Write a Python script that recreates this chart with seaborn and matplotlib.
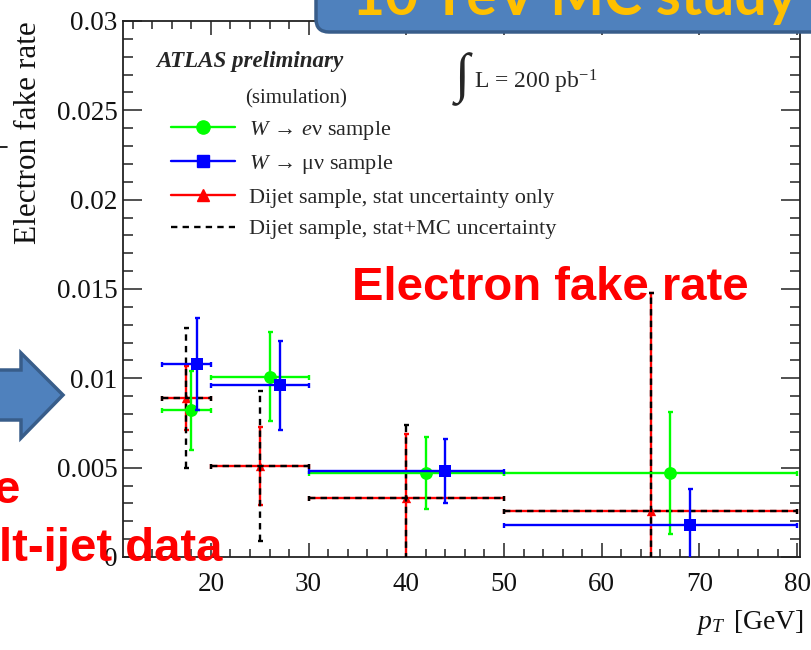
import numpy as np
import pandas as pd
import matplotlib
matplotlib.use("Agg")
import matplotlib.pyplot as plt
import seaborn as sns
from matplotlib.lines import Line2D
from matplotlib.patches import FancyBboxPatch, Polygon

# pT bin edges [GeV]
bin_lo = [15, 20, 30, 50]
bin_hi = [20, 30, 50, 80]

# W -> e nu sample
wen_pt = [18.0, 26.0, 42.0, 67.0]
wen_rate = [0.0082, 0.0101, 0.0047, 0.0047]
wen_err = [0.0022, 0.0025, 0.0020, 0.0034]

# W -> mu nu sample
wmn_pt = [18.6, 27.1, 44.0, 69.0]
wmn_rate = [0.0108, 0.0096, 0.0048, 0.0018]
wmn_err = [0.0026, 0.0025, 0.0018, 0.0020]

# Dijet sample: stat-only and stat+MC uncertainties
dij_pt = [17.5, 25.0, 40.0, 65.0]
dij_rate = [0.0089, 0.0051, 0.0033, 0.0026]
dij_stat = [0.0018, 0.0022, 0.0036, 0.0122]
dij_tot = [0.0039, 0.0042, 0.0041, 0.0122]

x_ticks = [20, 30, 40, 50, 60, 70, 80]
y_ticks = [0, 0.005, 0.01, 0.015, 0.02, 0.025, 0.03]
y_tick_labels = ["0", "0.005", "0.01", "0.015", "0.02", "0.025", "0.03"]

legend_labels = [
    r"$W\,\rightarrow\,e\mathrm{\nu}$ sample",
    r"$W\,\rightarrow\,\mathrm{\mu\nu}$ sample",
    "Dijet sample, stat uncertainty only",
    "Dijet sample, stat+MC uncertainty",
]

GREEN, BLUE, RED = "#00ff00", "#0000ff", "#ff0000"
DASH = (0, (2.7, 2.2))

sns.set_theme(style="ticks")
plt.rcParams["font.family"] = ["Liberation Serif", "DejaVu Serif"]
plt.rcParams["mathtext.fontset"] = "custom"
plt.rcParams["mathtext.rm"] = "Liberation Serif"
plt.rcParams["mathtext.it"] = "Liberation Serif:italic"
plt.rcParams["mathtext.bf"] = "Liberation Serif:bold"

W, H = 811, 650
fig = plt.figure(figsize=(W / 100, H / 100), dpi=100)
fig.patch.set_facecolor("white")
ax = fig.add_axes([123 / W, 1 - 557 / H, (800 - 123) / W, (557 - 21) / H])
ax.set_xlim(11, 80.3)
ax.set_ylim(0, 0.03)


def bin_xerr(x):
    x = np.asarray(x)
    return [x - np.asarray(bin_lo), np.asarray(bin_hi) - x]


def draw_errors(x, y, yerr, color, z, ls=None, lw=1.7):
    eb = ax.errorbar(x, y, xerr=bin_xerr(x), yerr=yerr, fmt="none",
                     ecolor=color, elinewidth=lw, capsize=1.8, capthick=lw,
                     zorder=z)
    if ls is not None:
        for col in eb[2]:
            col.set_linestyle(ls)
    return eb


# dijet: red stat bars under black dashed stat+MC bars
draw_errors(dij_pt, dij_rate, dij_stat, RED, 2)
sns.scatterplot(x=dij_pt, y=dij_rate, marker="^", color=RED, s=45,
                linewidth=0, ax=ax, zorder=3)
draw_errors(dij_pt, dij_rate, dij_tot, "black", 4, ls=DASH)

# W -> e nu
draw_errors(wen_pt, wen_rate, wen_err, GREEN, 5)
sns.scatterplot(x=wen_pt, y=wen_rate, marker="o", color=GREEN, s=85,
                linewidth=0, ax=ax, zorder=6)

# W -> mu nu
draw_errors(wmn_pt, wmn_rate, wmn_err, BLUE, 7)
sns.scatterplot(x=wmn_pt, y=wmn_rate, marker="s", color=BLUE, s=80,
                linewidth=0, ax=ax, zorder=8)

# ROOT-like frame with inward ticks on all four sides
ax.set_xticks(x_ticks)
ax.set_xticks(np.arange(12, 81, 2), minor=True)
ax.set_yticks(y_ticks)
ax.set_yticklabels(y_tick_labels)
ax.set_yticks(np.arange(0, 0.0301, 0.001), minor=True)
ax.tick_params(which="both", direction="in", top=True, right=True,
               color="#222222", width=1.1, labelsize=19.5, labelcolor="#111111")
ax.tick_params(axis="x", which="major", length=10, pad=11)
ax.tick_params(axis="x", which="minor", length=5.5)
ax.tick_params(axis="y", which="major", length=14, pad=4)
ax.tick_params(axis="y", which="minor", length=7)
for s in ax.spines.values():
    s.set_visible(True)
    s.set_color("#222222")
    s.set_linewidth(1.3)

ax.set_ylabel("Electron fake rate", fontsize=22.5, loc="top", va="center",
              color="#111111")
ax.yaxis.set_label_coords((28 - 123) / 677, 1.0)
ax.set_xlabel(r"$p_{T}\,$ [GeV]", fontsize=20, loc="right", va="top",
              color="#111111")
ax.xaxis.set_label_coords((804 - 123) / 677, -(608 - 557) / 536)

# legend and captions
handles = [
    Line2D([], [], color=GREEN, marker="o", markersize=9.5, lw=1.7),
    Line2D([], [], color=BLUE, marker="s", markersize=9, lw=1.7),
    Line2D([], [], color=RED, marker="^", markersize=8, lw=1.7),
    Line2D([], [], color="black", ls=DASH, lw=1.7),
]
ax.legend(handles, legend_labels, loc="upper left",
          bbox_to_anchor=((171 - 123) / 677, 1 - (119 - 21) / 536),
          frameon=False, borderpad=0, borderaxespad=0,
          handlelength=2.9, handletextpad=0.6, labelspacing=0.5,
          prop={"family": "Liberation Serif", "size": 16})

ax.text((156 - 123) / 677, 1 - (67 - 21) / 536, "ATLAS preliminary",
        transform=ax.transAxes, fontsize=16.6, fontweight="bold",
        fontstyle="italic", va="baseline", ha="left")
ax.text((245 - 123) / 677, 1 - (103 - 21) / 536, "(simulation)",
        transform=ax.transAxes, fontsize=15, va="baseline", ha="left")
ax.text((455 - 123) / 677, 1 - (91 - 21) / 536, "\u222b",
        transform=ax.transAxes, fontsize=39, va="baseline", ha="left")
ax.text((474 - 123) / 677, 1 - (88 - 21) / 536, r"L = 200 pb$^{-1}$",
        transform=ax.transAxes, fontsize=17, va="baseline", ha="left")

# slide overlay drawn in pixel coordinates
ov = fig.add_axes([0, 0, 1, 1], zorder=10)
ov.set_xlim(0, W)
ov.set_ylim(H, 0)
ov.axis("off")
ov.patch.set_alpha(0)

ov.add_patch(FancyBboxPatch((316, -40), 560, 72,
                            boxstyle="round,pad=0,rounding_size=13",
                            fc="#4f81bd", ec="#385d8a", lw=2.5))
ov.text(352, 15, "10 TeV MC study", color="#ffc000", fontsize=41,
        fontweight="bold", family=["Lato", "DejaVu Sans"], va="baseline",
        ha="left")

ov.add_patch(Polygon([(-5, 370), (21, 370), (21, 353), (63, 395),
                      (21, 438), (21, 420), (-5, 420)],
                     closed=True, fc="#4f81bd", ec="#385d8a", lw=2.5))
ov.plot([0, 7], [147, 147], color="black", lw=1.2)

red_font = dict(color="#ff0000", fontsize=34, fontweight="bold",
                family=["Liberation Sans", "DejaVu Sans"], va="baseline",
                ha="left")
ov.text(352, 300, "Electron fake rate", **red_font)
ov.text(-7, 503, "e", **red_font)
ov.text(-1, 561, "lt-ijet data", **red_font)

fig.savefig("out.png", dpi=100)
